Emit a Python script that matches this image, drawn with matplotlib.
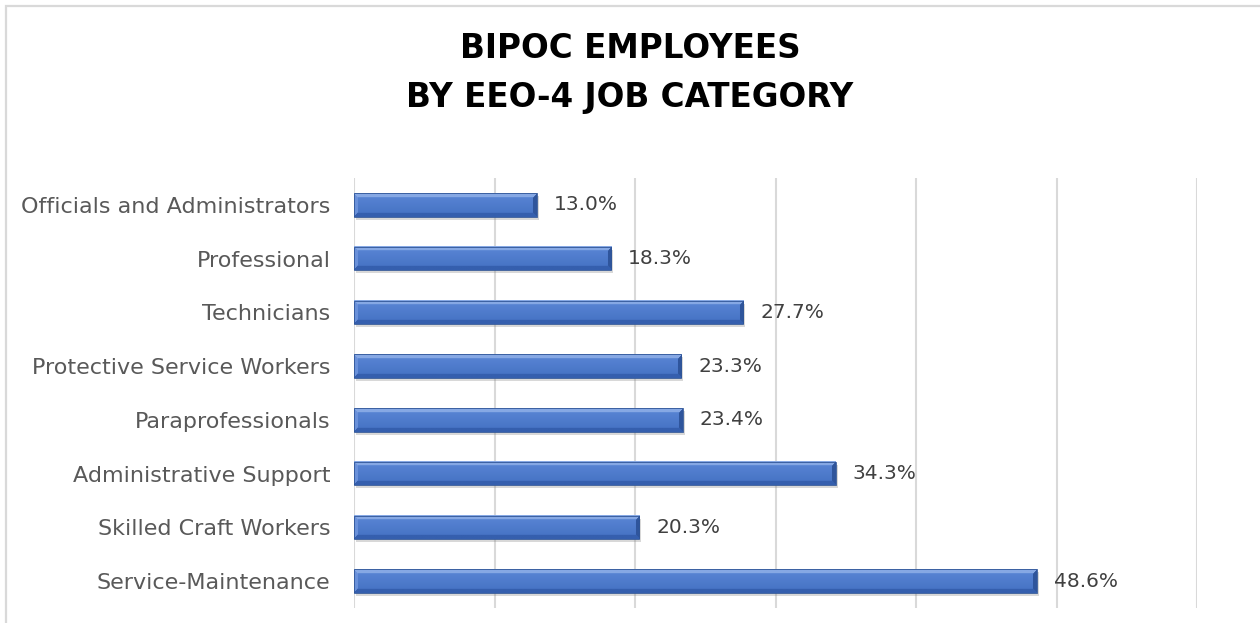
import matplotlib
matplotlib.use('Agg')

import numpy as np
import matplotlib.pyplot as plt
import matplotlib.transforms as mtransforms
from matplotlib.patches import Rectangle
from matplotlib.colors import to_rgb

# chart data, top to bottom
categories = ['Officials and Administrators', 'Professional', 'Technicians',
              'Protective Service Workers', 'Paraprofessionals',
              'Administrative Support', 'Skilled Craft Workers',
              'Service-Maintenance']
percents = [13.0, 18.3, 27.7, 23.3, 23.4, 34.3, 20.3, 48.6]
title = 'BIPOC EMPLOYEES\nBY EEO-4 JOB CATEGORY'

plt.rcParams['font.family'] = ['DejaVu Sans']

fig = plt.figure(figsize=(12.6, 6.23), dpi=100)
ax = fig.add_axes([354 / 1260, 1 - 608 / 623, 843 / 1260, 430 / 623])

# light gray chart frame running off the right and bottom edge
fig.patches.append(Rectangle((6 / 1260, -0.1), 1.2, 1 - 6 / 623 + 0.1,
                             transform=fig.transFigure, fill=False,
                             edgecolor='#d9d9d9', linewidth=1.6, zorder=0))

ys = np.arange(len(categories))
bar_h = 0.44


def bevel_image(w_px, h_px, bevel=4):
    """Shaded bar face with a picture-frame bevel."""
    face_top = np.array(to_rgb('#5a86d6'))
    face_bot = np.array(to_rgb('#4471c2'))
    top_c = np.array(to_rgb('#86a8e4'))
    bot_c = np.array(to_rgb('#355fae'))
    left_c = np.array(to_rgb('#6a91da'))
    right_c = np.array(to_rgb('#2f559c'))
    img = np.zeros((h_px, w_px, 3))
    for r in range(h_px):
        t = r / max(h_px - 1, 1)
        base = face_top * (1 - t) + face_bot * t
        for c in range(w_px):
            d = [r, h_px - 1 - r, c, w_px - 1 - c]
            k = int(np.argmin(d))
            if d[k] < bevel:
                img[r, c] = [top_c, bot_c, left_c, right_c][k]
            else:
                img[r, c] = base
    return img


shadow = mtransforms.offset_copy(ax.transData, fig=fig, x=2, y=-3, units='dots')
for y, v in zip(ys, percents):
    # soft drop shadow
    ax.barh(y, v, height=bar_h, color='#7f7f7f', alpha=0.3,
            transform=shadow, zorder=2)
    w_px = max(int(v * 843 / 60), 2)
    h_px = int(bar_h * 430 / 8)
    ax.imshow(bevel_image(w_px, h_px, bevel=4), aspect='auto',
              extent=(0, v, y + bar_h / 2, y - bar_h / 2),
              interpolation='bilinear', zorder=3)
    ax.barh(y, v, height=bar_h, facecolor='none', edgecolor='#2f5597',
            linewidth=0.6, zorder=4)
    ax.text(v + 1.2, y, f'{v:.1f}%', va='center', ha='left',
            fontsize=14.5, color='#404040', zorder=5)

ax.set_xlim(0, 60)
ax.set_ylim(len(categories) - 0.5, -0.5)
ax.set_xticks(np.arange(0, 61, 10))
ax.set_xticklabels([])
ax.tick_params(axis='x', length=0)
ax.grid(axis='x', color='#d9d9d9', linewidth=1.5, zorder=0)
ax.set_axisbelow(True)
for s in ax.spines.values():
    s.set_visible(False)

ax.set_yticks(ys)
ax.set_yticklabels(categories, fontsize=16, color='#595959')
ax.tick_params(axis='y', length=0, pad=17)

fig.text(630 / 1260, 1 - 73 / 623, title, ha='center', va='center',
         fontsize=23.5, fontweight='bold', color='#000000', linespacing=1.6)

fig.savefig('out.png', dpi=100)
